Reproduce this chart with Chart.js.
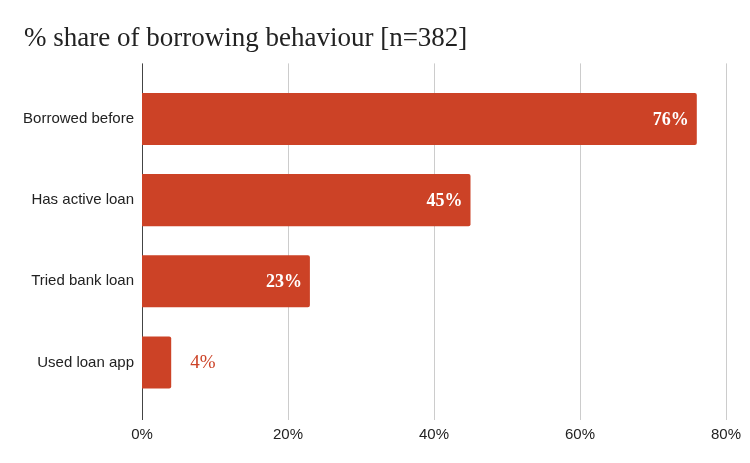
<!DOCTYPE html>
<html>
<head>
<meta charset="utf-8">
<script src="https://cdn.jsdelivr.net/npm/chart.js@4"></script>
<style>
  html, body { margin: 0; padding: 0; background: #fff; }
  #wrap { width: 750px; height: 463px; }
</style>
</head>
<body>
<div id="wrap"><canvas id="myChart"></canvas></div>
<script>
// data
const categories = ['Borrowed before', 'Has active loan', 'Tried bank loan', 'Used loan app'];
const shares = [76, 45, 23, 4];
const xTicks = [0, 20, 40, 60, 80];

const barColor = '#cc4226';
const serif = "Georgia, 'Liberation Serif', serif";
const sans = "Arial, 'Liberation Sans', sans-serif";

// vertical grid lines run a bit past the bars, like the original
const gridLines = {
    id: 'gridLines',
    beforeDatasetsDraw(chart) {
        const { ctx, chartArea, scales } = chart;
        const top = chartArea.top - 15;
        const bottom = chartArea.bottom + 17;
        ctx.save();
        xTicks.forEach((t) => {
            const x = Math.round(scales.x.getPixelForValue(t)) + 0.5;
            ctx.strokeStyle = t === 0 ? '#444444' : '#cccccc';
            ctx.lineWidth = 1;
            ctx.beginPath();
            ctx.moveTo(x, top);
            ctx.lineTo(x, bottom);
            ctx.stroke();
        });
        ctx.restore();
    }
};

// value labels: inside the bar end, or just outside for short bars
const valueLabels = {
    id: 'valueLabels',
    afterDatasetsDraw(chart) {
        const { ctx } = chart;
        const meta = chart.getDatasetMeta(0);
        ctx.save();
        ctx.textBaseline = 'middle';
        meta.data.forEach((bar, i) => {
            const v = shares[i];
            const text = v + '%';
            if (v >= 10) {
                ctx.font = 'bold 18px ' + serif;
                ctx.fillStyle = '#ffffff';
                ctx.textAlign = 'right';
                ctx.fillText(text, bar.x - 8, bar.y + 1);
            } else {
                ctx.font = '19px ' + serif;
                ctx.fillStyle = barColor;
                ctx.textAlign = 'left';
                ctx.fillText(text, bar.x + 19, bar.y + 1);
            }
        });
        ctx.restore();
    }
};

const ctx = document.getElementById('myChart');
const chart = new Chart(ctx, {
    type: 'bar',
    data: {
        labels: categories,
        datasets: [{
            data: shares,
            backgroundColor: barColor,
            borderRadius: 2,
            borderSkipped: 'start',
            barPercentage: 0.642,
            categoryPercentage: 1
        }]
    },
    options: {
        indexAxis: 'y',
        responsive: true,
        maintainAspectRatio: false,
        animation: false,
        layout: { padding: { left: 24, right: 24, top: 0, bottom: 0 } },
        plugins: {
            legend: { display: false },
            tooltip: { enabled: false },
            title: {
                display: true,
                text: '% share of borrowing behaviour [n=382]',
                align: 'start',
                color: '#222222',
                font: { family: serif, size: 27, weight: 'normal' },
                padding: { top: 23, bottom: 23 }
            }
        },
        scales: {
            x: {
                min: 0,
                max: 80,
                afterBuildTicks(scale) {
                    scale.ticks = xTicks.map((v) => ({ value: v }));
                },
                afterFit(scale) {
                    scale.height = 60;
                    scale.paddingRight = 0;
                    scale.paddingLeft = 0;
                },
                grid: { display: false },
                border: { display: false },
                ticks: {
                    padding: 15,
                    color: '#222222',
                    font: { family: sans, size: 15 },
                    callback: (v) => v + '%'
                }
            },
            y: {
                afterFit(scale) { scale.width = 118; },
                grid: { display: false, drawTicks: false },
                border: { display: false },
                ticks: {
                    padding: 8,
                    color: '#222222',
                    font: { family: sans, size: 15 }
                }
            }
        }
    },
    plugins: [gridLines, valueLabels]
});
</script>
</body>
</html>
